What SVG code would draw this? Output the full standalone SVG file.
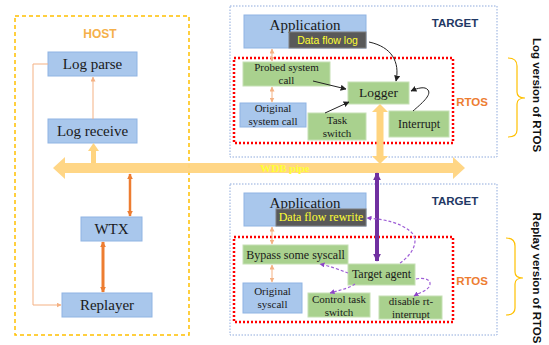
<svg xmlns="http://www.w3.org/2000/svg" width="549" height="345" viewBox="0 0 549 345">
<style>
.blue{fill:#A9C7EC;stroke:#8FB4E3;stroke-width:1}
.green{fill:#A9D18E;stroke:#C5E0B4;stroke-width:1}
.dark{fill:#595959;stroke:#7F7F7F;stroke-width:1}
.t{font-family:"Liberation Serif","Times New Roman",serif;fill:#1a1a1a;text-anchor:middle}
.big{font-size:15px}
.sm{font-size:12px}
.two{font-size:11px}
.y{fill:#FFFF33}
.lbl{font-family:"Liberation Sans",Arial,sans-serif;font-weight:bold;text-anchor:middle}
.thin{fill:none;stroke:#F4B183;stroke-width:1}
.blk{fill:none;stroke:#222;stroke-width:1}
.pd{fill:none;stroke:#9E5ED6;stroke-width:1.2;stroke-dasharray:3 2}
</style>
<defs>
<marker id="ao" viewBox="0 0 10 10" refX="9" refY="5" markerWidth="5" markerHeight="5" markerUnits="userSpaceOnUse" orient="auto-start-reverse"><path d="M0,0 L10,5 L0,10 z" fill="#F4B183"/></marker>
<marker id="aO" viewBox="0 0 10 10" refX="9" refY="5" markerWidth="6" markerHeight="6" markerUnits="userSpaceOnUse" orient="auto-start-reverse"><path d="M0,0 L10,5 L0,10 z" fill="#ED7D31"/></marker>
<marker id="ak" viewBox="0 0 10 10" refX="9" refY="5" markerWidth="6" markerHeight="6" markerUnits="userSpaceOnUse" orient="auto"><path d="M0,0 L10,5 L0,10 z" fill="#222"/></marker>
<marker id="ap" viewBox="0 0 10 10" refX="9" refY="5" markerWidth="5" markerHeight="5" markerUnits="userSpaceOnUse" orient="auto"><path d="M0,0 L10,5 L0,10 z" fill="#8E44C8"/></marker>
<marker id="aP" viewBox="0 0 10 10" refX="9" refY="5" markerWidth="8" markerHeight="8" markerUnits="userSpaceOnUse" orient="auto-start-reverse"><path d="M0,0 L10,5 L0,10 z" fill="#7030A0"/></marker>
</defs>
<rect width="549" height="345" fill="#fff"/>

<g id="host">
<rect x="15" y="16" width="174" height="319" fill="none" stroke="#FFC000" stroke-width="1.5" stroke-dasharray="4 3"/>
<text class="lbl" x="100" y="38" font-size="12" fill="#F5B04A">HOST</text>
</g>
<g id="target-log">
<rect x="230" y="6" width="267" height="151" fill="none" stroke="#8FAADC" stroke-width="1" stroke-dasharray="1.5 1.5"/>
<text class="lbl" x="455" y="27" font-size="11.5" fill="#1F3864">TARGET</text>
</g>
<g id="rtos-log">
<rect x="234" y="58" width="219" height="85" fill="none" stroke="#FF0000" stroke-width="2.5" stroke-dasharray="2 2"/>
<text class="lbl" x="472" y="106" font-size="11.5" fill="#ED7D31">RTOS</text>
</g>
<g id="target-replay">
<rect x="230" y="184" width="267" height="151" fill="none" stroke="#8FAADC" stroke-width="1" stroke-dasharray="1.5 1.5"/>
<text class="lbl" x="455" y="205" font-size="11.5" fill="#1F3864">TARGET</text>
</g>
<g id="rtos-replay">
<rect x="234" y="237" width="219" height="85" fill="none" stroke="#FF0000" stroke-width="2.5" stroke-dasharray="2 2"/>
<text class="lbl" x="472" y="285" font-size="11.5" fill="#ED7D31">RTOS</text>
</g>

<g id="log-parse"><rect class="blue" x="48" y="52" width="89" height="24"/><text class="t big" x="92.5" y="69">Log parse</text></g>
<g id="log-receive"><rect class="blue" x="48" y="119" width="89" height="24"/><text class="t big" x="92.5" y="136">Log receive</text></g>
<g id="wtx"><rect class="blue" x="81" y="217" width="61" height="24"/><text class="t big" x="111.5" y="234">WTX</text></g>
<g id="replayer"><rect class="blue" x="62" y="293" width="90" height="24"/><text class="t big" x="107" y="310">Replayer</text></g>

<g id="app-top"><rect class="blue" x="244" y="15" width="122" height="33"/><text class="t big" x="305" y="30">Application</text></g>
<g id="data-flow-log"><rect class="dark" x="289" y="32" width="77" height="16"/><text x="327.5" y="44" font-family="Liberation Sans,Arial,sans-serif" font-size="10.5" text-anchor="middle" fill="#FFFF33">Data flow log</text></g>
<g id="probed"><rect class="green" x="243" y="62" width="87" height="24"/><text class="t two" x="286.5" y="71">Probed system</text><text class="t two" x="286.5" y="84">call</text></g>
<g id="orig-top"><rect class="blue" x="240" y="103" width="66" height="24"/><text class="t two" x="273" y="112">Original</text><text class="t two" x="273" y="125">system call</text></g>
<g id="logger"><rect class="green" x="348" y="82" width="61" height="22"/><text class="t" font-size="13.5" x="378.5" y="97">Logger</text></g>
<g id="task-switch"><rect class="green" x="308" y="113" width="58" height="27"/><text class="t two" x="337" y="124">Task</text><text class="t two" x="337" y="137">switch</text></g>
<g id="interrupt"><rect class="green" x="389" y="111" width="60" height="26"/><text class="t sm" x="419" y="128">Interrupt</text></g>

<g id="app-bottom"><rect class="blue" x="244" y="193" width="122" height="33"/><text class="t big" x="305" y="208">Application</text></g>
<g id="data-flow-rewrite"><rect class="dark" x="276" y="209" width="90" height="17"/><text class="t sm y" x="321" y="221">Data flow rewrite</text></g>
<g id="bypass"><rect class="green" x="243" y="245" width="105" height="19"/><text class="t sm" x="295.5" y="259">Bypass some syscall</text></g>
<g id="orig-bottom"><rect class="blue" x="243" y="283" width="59" height="30"/><text class="t two" x="272.5" y="295">Original</text><text class="t two" x="272.5" y="308">syscall</text></g>
<g id="target-agent"><rect class="green" x="348" y="264" width="67" height="21"/><text class="t sm" x="381.5" y="278">Target agent</text></g>
<g id="control-task"><rect class="green" x="308" y="293" width="62" height="24"/><text class="t two" x="339" y="303">Control task</text><text class="t two" x="339" y="316">switch</text></g>
<g id="disable-rt"><rect class="green" x="379" y="296" width="63" height="23"/><text class="t two" x="411" y="305">disable rt-</text><text class="t two" x="411" y="318">interrupt</text></g>

<g id="connectors">
<path d="M465,168 L453,157 L453,163 L65,163 L65,157 L53,168 L65,179 L65,173 L453,173 L453,179 Z" fill="#FFD47F" opacity="0.95"/>
<text x="260" y="172" font-family="Liberation Serif,serif" font-weight="bold" font-size="11" fill="#FFFF33">WDB pipe</text>
<path d="M91,163 L91,151 L88,151 L93.5,143 L99,151 L96,151 L96,163 Z" fill="#FFD47F"/>
<path d="M376.5,112 L372,112 L380,104 L388,112 L383.5,112 L383.5,156 L388,156 L380,164 L372,156 L376.5,156 Z" fill="#FFD47F"/>
<line x1="93" y1="119" x2="93" y2="77" class="thin" marker-end="url(#ao)"/>
<polyline points="48,64 33,64 33,305 61,305" class="thin" marker-end="url(#ao)"/>
<line x1="130" y1="174" x2="130" y2="216" stroke="#ED7D31" stroke-width="2.5" marker-start="url(#aO)" marker-end="url(#aO)"/>
<line x1="103" y1="242" x2="103" y2="292" stroke="#ED7D31" stroke-width="3" marker-start="url(#aO)" marker-end="url(#aO)"/>
<line x1="272" y1="49" x2="272" y2="61" class="thin" marker-start="url(#ao)" marker-end="url(#ao)"/>
<line x1="272" y1="87" x2="272" y2="102" class="thin" marker-start="url(#ao)" marker-end="url(#ao)"/>
<path d="M369,42 C392,47 400,62 396,81" class="blk" marker-end="url(#ak)"/>
<line x1="313" y1="81" x2="346" y2="89" class="blk" marker-end="url(#ak)"/>
<line x1="325" y1="113" x2="349" y2="102" class="blk" marker-end="url(#ak)"/>
<path d="M413,111 C421,104 432,95 428,90 C425,86 418,88 411,91" class="blk" marker-end="url(#ak)"/>
<line x1="377" y1="173" x2="377" y2="261" stroke="#7030A0" stroke-width="4" marker-start="url(#aP)" marker-end="url(#aP)"/>
<line x1="272" y1="227" x2="272" y2="244" class="thin" marker-start="url(#ao)" marker-end="url(#ao)"/>
<line x1="272" y1="265" x2="272" y2="282" class="thin" marker-start="url(#ao)" marker-end="url(#ao)"/>
<path d="M400,263 C412,255 421,240 410,231 C400,223 385,219 367,218" class="pd" marker-end="url(#ap)"/>
<path d="M348,273 C340,270 330,266 320,264" class="pd" marker-end="url(#ap)"/>
<path d="M355,284 C350,288 340,290 330,293" class="pd" marker-end="url(#ap)"/>
<path d="M416,279 C425,277 433,280 429,287 C426,291 419,293 414,296" class="pd" marker-end="url(#ap)"/>
</g>

<g id="brace-log">
<path d="M508,58 Q517,58 517,66 L517,92 Q517,98 525,98 Q517,98 517,104 L517,130 Q517,137 508,137" fill="none" stroke="#FFC000" stroke-width="1.2"/>
<text x="537" y="95" transform="rotate(90 537 95)" font-family="Liberation Sans,Arial,sans-serif" font-weight="bold" font-size="11.5" text-anchor="middle" dominant-baseline="central" fill="#111">Log version of RTOS</text>
</g>
<g id="brace-replay">
<path d="M506,238 Q515,238 515,246 L515,272 Q515,278 523,278 Q515,278 515,284 L515,308 Q515,315 506,315" fill="none" stroke="#FFC000" stroke-width="1.2"/>
<text x="537" y="278" transform="rotate(90 537 278)" font-family="Liberation Sans,Arial,sans-serif" font-weight="bold" font-size="11.5" text-anchor="middle" dominant-baseline="central" fill="#111">Replay version of RTOS</text>
</g>
</svg>
